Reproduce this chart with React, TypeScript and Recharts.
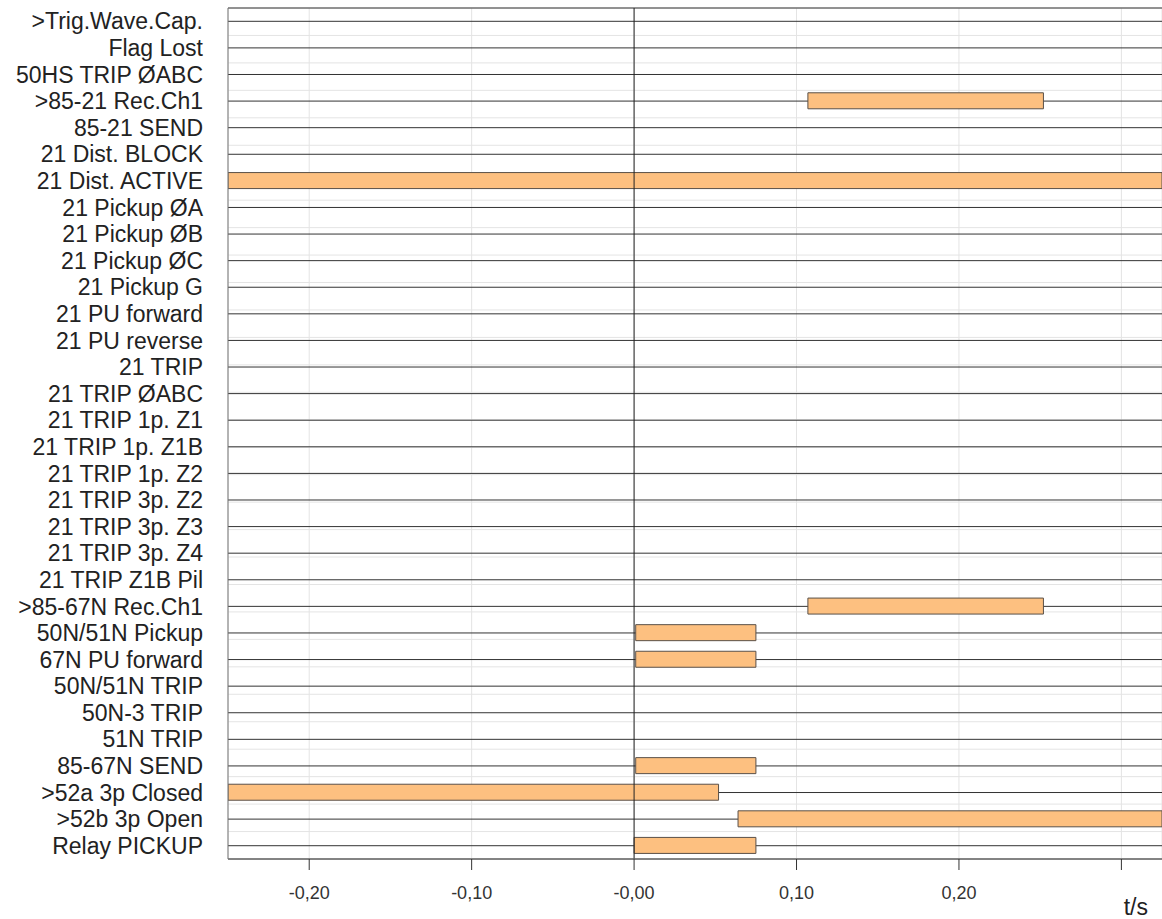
import { Bar, BarChart, CartesianGrid, ReferenceLine, XAxis, YAxis } from "recharts"

const signals = [
  ">Trig.Wave.Cap.",
  "Flag Lost",
  "50HS TRIP ØABC",
  ">85-21 Rec.Ch1",
  "85-21 SEND",
  "21 Dist. BLOCK",
  "21 Dist. ACTIVE",
  "21 Pickup ØA",
  "21 Pickup ØB",
  "21 Pickup ØC",
  "21 Pickup G",
  "21 PU forward",
  "21 PU reverse",
  "21 TRIP",
  "21 TRIP ØABC",
  "21 TRIP 1p. Z1",
  "21 TRIP 1p. Z1B",
  "21 TRIP 1p. Z2",
  "21 TRIP 3p. Z2",
  "21 TRIP 3p. Z3",
  "21 TRIP 3p. Z4",
  "21 TRIP Z1B Pil",
  ">85-67N Rec.Ch1",
  "50N/51N Pickup",
  "67N PU forward",
  "50N/51N TRIP",
  "50N-3 TRIP",
  "51N TRIP",
  "85-67N SEND",
  ">52a 3p Closed",
  ">52b 3p Open",
  "Relay PICKUP",
]

// on / off times in seconds, null = signal never active
const onTimes: (number | null)[] = [
  null, null, null, 0.107, null, null, -0.25, null, null, null, null, null,
  null, null, null, null, null, null, null, null, null, null, 0.107, 0.001,
  0.001, null, null, null, 0.001, -0.25, 0.064, 0.0,
]
const offTimes: (number | null)[] = [
  null, null, null, 0.252, null, null, 0.325, null, null, null, null, null,
  null, null, null, null, null, null, null, null, null, null, 0.252, 0.075,
  0.075, null, null, null, 0.075, 0.052, 0.325, 0.075,
]

const xTicks = [-0.2, -0.1, 0, 0.1, 0.2, 0.3]
const xTickLabels = ["-0,20", "-0,10", "-0,00", "0,10", "0,20", ""]

const rowBounds = signals.slice(1).map((_, i) => i + 1)

const data = signals.map((name, i) => ({
  name,
  span: onTimes[i] === null ? null : [onTimes[i], offTimes[i]],
}))

const font = "'Liberation Sans', Arial, sans-serif"

export default function App() {
  return (
    <div style={{ position: "absolute", left: 0, top: 0, background: "#fff" }}>
      <BarChart
        width={1162}
        height={919}
        data={data}
        layout="vertical"
        margin={{ top: 8, right: 0, left: 0, bottom: 0 }}
        style={{ fontFamily: font }}
      >
        <YAxis
          yAxisId="rows"
          type="number"
          domain={[0, signals.length]}
          ticks={rowBounds}
          width={0}
          hide
        />
        <CartesianGrid yAxisId="rows" stroke="#e4e4e4" />
        <CartesianGrid yAxisId="sig" stroke="#333" vertical={false} />
        <XAxis
          type="number"
          domain={[-0.25, 0.325]}
          allowDataOverflow
          ticks={xTicks}
          tickFormatter={(v: number) => xTickLabels[xTicks.indexOf(v)] ?? ""}
          height={60}
          stroke="#777"
          tickSize={11}
          tickMargin={16}
          tick={{ fill: "#333", fontSize: 18 }}
          tickLine={{ stroke: "#333" }}
          label={{
            value: "t/s",
            position: "insideBottomRight",
            offset: 14,
            dy: 10,
            fill: "#222",
            fontSize: 23,
          }}
        />
        <YAxis
          yAxisId="sig"
          type="category"
          dataKey="name"
          width={228}
          stroke="#777"
          tickLine={false}
          tickSize={0}
          tickMargin={25}
          interval={0}
          tick={{ fill: "#222", fontSize: 23 }}
        />
        <Bar
          yAxisId="sig"
          dataKey="span"
          barSize={16}
          fill="#fdc080"
          stroke="#5a5048"
          strokeWidth={1}
          isAnimationActive={false}
        />
        <ReferenceLine yAxisId="sig" x={0} stroke="#222" strokeWidth={1} />
      </BarChart>
    </div>
  )
}
